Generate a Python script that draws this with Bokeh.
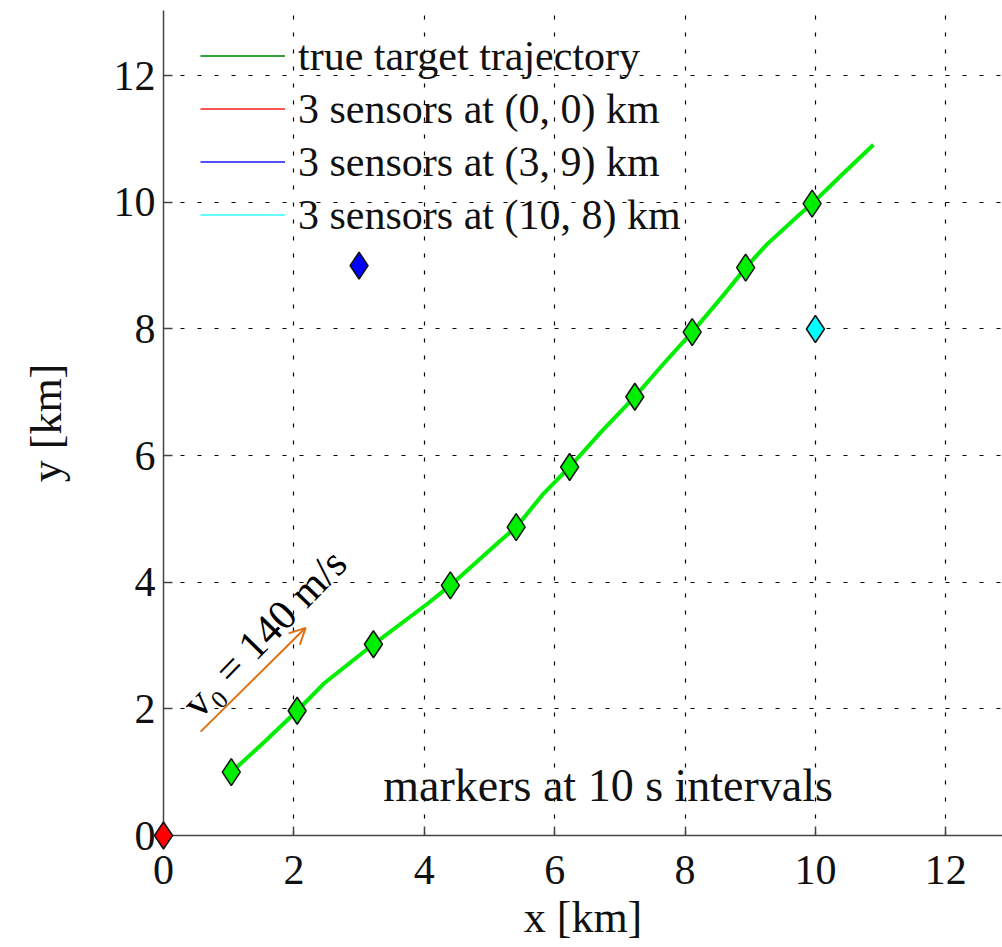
from bokeh.plotting import figure
from bokeh.models import (Range1d, FixedTicker, Legend, LegendItem, Arrow, OpenHead,
                          ColumnDataSource)
from bokeh.core.properties import value
from bokeh.embed import file_html
from bokeh.resources import INLINE

FONT = "Liberation Serif"
NAN = float("nan")

# ---- data ----
traj_x = [1.04, 1.55, 2.05, 2.46, 3.22, 4.05, 4.40, 5.17, 5.41, 5.83, 6.23, 6.71, 7.23,
          7.67, 8.11, 8.39, 8.65, 8.93, 9.26, 9.77, 9.95, 10.39, 10.89]
traj_y = [1.00, 1.48, 1.97, 2.40, 3.02, 3.66, 3.95, 4.66, 4.87, 5.40, 5.82, 6.37, 6.93,
          7.45, 7.95, 8.29, 8.61, 8.97, 9.34, 9.82, 9.98, 10.42, 10.91]
mark_x = [1.04, 2.05, 3.22, 4.40, 5.41, 6.23, 7.23, 8.11, 8.93, 9.95]
mark_y = [1.00, 1.97, 3.02, 3.95, 4.87, 5.82, 6.93, 7.95, 8.97, 9.98]
sensor_x = [0, 3, 10]
sensor_y = [0, 9, 8]
sensor_colors = ["#ff0000", "#0000ff", "#00ffff"]
legend_labels = ["true target trajectory", "3 sensors at (0, 0) km",
                 "3 sensors at (3, 9) km", "3 sensors at (10, 8) km"]
legend_colors = ["#33a033", "#ff5555", "#5050ff", "#66ffff"]
ticks = [0, 2, 4, 6, 8, 10, 12]
arrow_start = (0.57, 1.64)
arrow_end = (2.18, 3.28)
v_label = "v\u2080 = 140 m/s"
note_label = "markers at 10 s intervals"
x_title = "x [km]"
y_title = "y [km]"

X_END = 12.87
Y_END = 13.03
p = figure(width=1002, height=947, output_backend="svg", toolbar_location=None,
           x_range=Range1d(0, X_END), y_range=Range1d(0, Y_END),
           min_border_left=163, min_border_right=0, min_border_top=10, min_border_bottom=112)
p.outline_line_color = None
p.background_fill_color = "white"

for ax in (p.xaxis[0], p.yaxis[0]):
    ax.ticker = FixedTicker(ticks=ticks)
    ax.minor_tick_line_color = None
    ax.major_tick_in = 9
    ax.major_tick_out = 0
    ax.axis_line_color = "#444444"
    ax.axis_line_width = 1.5
    ax.major_tick_line_color = "#444444"
    ax.major_tick_line_width = 1.5
    ax.major_label_text_font = FONT
    ax.major_label_text_font_size = "42px"
    ax.major_label_text_color = "#111111"
    ax.axis_label_text_font = FONT
    ax.axis_label_text_font_size = "44px"
    ax.axis_label_text_font_style = "normal"
    ax.axis_label_text_color = "#111111"

p.xaxis.axis_label = x_title
p.yaxis.axis_label = y_title
p.xaxis.major_label_standoff = 20
p.xaxis.axis_label_standoff = 6
p.yaxis.major_label_standoff = 8
p.yaxis.axis_label_standoff = 40

for g in (p.xgrid[0], p.ygrid[0]):
    g.ticker = FixedTicker(ticks=ticks[1:])
    g.grid_line_color = "black"
    g.grid_line_dash = "4 13"
    g.grid_line_width = 1.2

# trajectory
p.line(traj_x, traj_y, line_color="#00ee00", line_width=4, line_join="round")
p.scatter(mark_x, mark_y, marker="diamond", size=27, fill_color="#00ee00",
          line_color="#111111", line_width=1.5)

# sensors, drawn on the overlay level
src = ColumnDataSource(dict(x=sensor_x, y=sensor_y, c=sensor_colors))
p.scatter("x", "y", source=src, marker="diamond", size=27, fill_color="c",
          line_color="#111111", line_width=1.5, level="overlay")

# arrow and texts
p.add_layout(Arrow(end=OpenHead(line_color="#e07010", line_width=2, size=16),
                   x_start=arrow_start[0], y_start=arrow_start[1],
                   x_end=arrow_end[0], y_end=arrow_end[1],
                   line_color="#e07010", line_width=2))
p.text(x=[0.40], y=[1.98], text=[v_label], angle=0.8, text_font=value(FONT),
       text_font_size="42px", text_color="black", text_align="left",
       text_baseline="alphabetic")
p.text(x=[6.82], y=[0.79], text=[note_label], text_font=value(FONT),
       text_font_size="46px", text_color="#111111", text_align="center",
       text_baseline="alphabetic")

# legend with line glyphs
items = []
for lab, col in zip(legend_labels, legend_colors):
    r = p.line(x=[NAN], y=[NAN], line_color=col, line_width=2)
    items.append(LegendItem(label=lab, renderers=[r]))
legend = Legend(items=items, location=(37, 594), margin=0, padding=0,
                glyph_width=85, glyph_height=53, label_height=53, spacing=0,
                label_standoff=13, label_text_font=FONT, label_text_font_size="42px",
                label_text_color="#111111", background_fill_alpha=0,
                border_line_color=None)
p.add_layout(legend)

open("out.html", "w").write(file_html(p, INLINE))
